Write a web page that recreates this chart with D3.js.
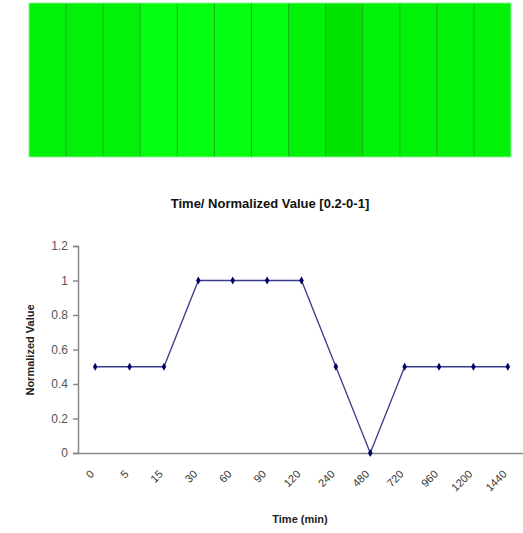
<!DOCTYPE html>
<html>
<head>
<meta charset="utf-8">
<script src="https://cdn.jsdelivr.net/npm/d3@7"></script>
<style>
  body { margin: 0; background: #fff; }
  svg { display: block; font-family: Arial, "Liberation Sans", sans-serif; }
</style>
</head>
<body>
<svg id="chart" width="523" height="533"></svg>
<script>
var times = ["0", "5", "15", "30", "60", "90", "120", "240", "480", "720", "960", "1200", "1440"];
var values = [0.5, 0.5, 0.5, 1, 1, 1, 1, 0.5, 0, 0.5, 0.5, 0.5, 0.5];
var yTicks = [0, 0.2, 0.4, 0.6, 0.8, 1, 1.2];

var svg = d3.select("#chart");

// heat strip on top
var hx = d3.scaleBand().domain(times).range([29, 511]);
var heat = d3.scaleLinear().domain([0, 1]).range(["#00e200", "#04ff10"]);

svg.append("g").selectAll("rect")
  .data(times)
  .enter().append("rect")
  .attr("x", function(d) { return hx(d); })
  .attr("y", 3)
  .attr("width", hx.bandwidth())
  .attr("height", 154)
  .attr("fill", function(d, i) { return heat(values[i]); });

svg.append("g").selectAll("line")
  .data(times.slice(1))
  .enter().append("line")
  .attr("x1", function(d) { return hx(d); })
  .attr("x2", function(d) { return hx(d); })
  .attr("y1", 3).attr("y2", 157)
  .attr("stroke", "#15b815")
  .attr("stroke-width", 1.2);

svg.append("rect")
  .attr("x", 29).attr("y", 3).attr("width", 482).attr("height", 154)
  .attr("fill", "none").attr("stroke", "#8ef08e").attr("stroke-width", 1);

// line chart
svg.append("text")
  .attr("x", 270).attr("y", 208)
  .attr("text-anchor", "middle")
  .attr("font-size", 13).attr("font-weight", "bold").attr("fill", "#111")
  .text("Time/ Normalized Value [0.2-0-1]");

var x = d3.scaleBand().domain(times).range([78, 525]);
var y = d3.scaleLinear().domain([0, 1.2]).range([453, 246]);

var yAxis = svg.append("g")
  .attr("transform", "translate(78,0)")
  .call(d3.axisLeft(y).tickValues(yTicks).tickSize(5).tickPadding(5)
    .tickFormat(function(d) { return d3.format("")(+d.toFixed(1)); }));
yAxis.selectAll("path, line").attr("stroke", "#888").attr("stroke-width", 1.5);
yAxis.selectAll("text").attr("font-size", 12).attr("fill", "#555").attr("font-family", "Arial, sans-serif");

var xAxis = svg.append("g")
  .attr("transform", "translate(0,453)")
  .call(d3.axisBottom(x).tickSize(0).tickPadding(8));
xAxis.select("path").attr("stroke", "#888").attr("stroke-width", 1.5);
xAxis.selectAll("text")
  .attr("font-size", 11).attr("fill", "#333").attr("font-family", "Arial, sans-serif")
  .attr("text-anchor", "end")
  .attr("dy", "0.35em")
  .attr("transform", function() { return "translate(-3,19) rotate(-45)"; })
  .attr("y", 0);

svg.append("text")
  .attr("transform", "translate(34,350) rotate(-90)")
  .attr("text-anchor", "middle")
  .attr("font-size", 11).attr("font-weight", "bold").attr("fill", "#222")
  .text("Normalized Value");

svg.append("text")
  .attr("x", 300).attr("y", 523)
  .attr("text-anchor", "middle")
  .attr("font-size", 11).attr("font-weight", "bold").attr("fill", "#222")
  .text("Time (min)");

var cx = function(d, i) { return x(times[i]) + x.bandwidth() / 2; };

svg.append("path")
  .datum(values)
  .attr("fill", "none")
  .attr("stroke", "#3a3a8c")
  .attr("stroke-width", 1.3)
  .attr("d", d3.line().x(cx).y(function(d) { return y(d); }));

svg.append("g").selectAll("path")
  .data(values)
  .enter().append("path")
  .attr("d", d3.symbol().type(d3.symbolDiamond).size(18))
  .attr("transform", function(d, i) { return "translate(" + cx(d, i) + "," + y(d) + ")"; })
  .attr("fill", "#000066");
</script>
</body>
</html>
